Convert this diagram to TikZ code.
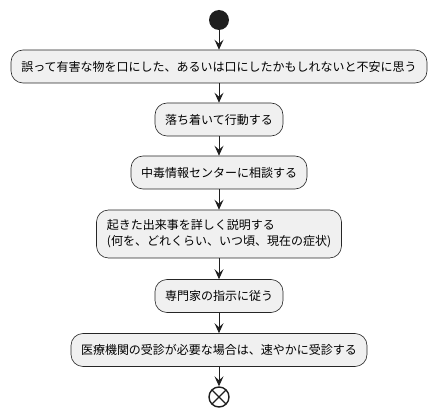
\documentclass[tikz,border=0pt]{standalone}
\usepackage{fontspec}
\newfontfamily\jpfont{Noto Sans CJK JP}
\usetikzlibrary{arrows.meta, positioning}

\begin{document}
\begin{tikzpicture}[
    x=1pt, y=-1pt,
    every node/.style={font=\jpfont\fontsize{12}{16}\selectfont},
    actbox/.style={rectangle, draw=black!85, line width=0.6pt, rounded corners=12pt, fill=black!6, minimum height=33pt, inner xsep=10pt, align=left},
    startdot/.style={circle, fill=black!88, minimum size=20pt, inner sep=0pt},
    stopdot/.style={circle, draw=black!88, line width=1.4pt, minimum size=20pt, inner sep=0pt,
        path picture={\draw[line width=1.4pt, black!88] (path picture bounding box.north west) -- (path picture bounding box.south east)
            (path picture bounding box.north east) -- (path picture bounding box.south west);}},
    arr/.style={-{Stealth[length=10pt, width=9pt, inset=4pt]}, line width=0.9pt, black!88}
]
\useasboundingbox (0,0) rectangle (437,417);

% Start
\node[startdot] (start) at (219, 20) {};

% Activities
\node[actbox, minimum width=416pt] (a1) at (219, 66.5) {誤って有害な物を口にした、あるいは口にしたかもしれないと不安に思う};
\node[actbox, minimum width=128pt] (a2) at (219, 119.5) {落ち着いて行動する};
\node[actbox, minimum width=175pt] (a3) at (219, 172.5) {中毒情報センターに相談する};
\node[actbox, minimum width=245pt, minimum height=48pt] (a4) at (219, 234) {起きた出来事を詳しく説明する\\(何を、どれくらい、いつ頃、現在の症状)};
\node[actbox, minimum width=128pt] (a5) at (219, 296) {専門家の指示に従う};
\node[actbox, minimum width=295pt] (a6) at (219, 350) {医療機関の受診が必要な場合は、速やかに受診する};

% Stop
\node[stopdot] (stop) at (219, 397) {};

% Arrows
\draw[arr] (start.south) -- (a1.north);
\draw[arr] (a1.south) -- (a2.north);
\draw[arr] (a2.south) -- (a3.north);
\draw[arr] (a3.south) -- (a4.north);
\draw[arr] (a4.south) -- (a5.north);
\draw[arr] (a5.south) -- (a6.north);
\draw[arr] (a6.south) -- (stop.north);

\end{tikzpicture}
\end{document}
